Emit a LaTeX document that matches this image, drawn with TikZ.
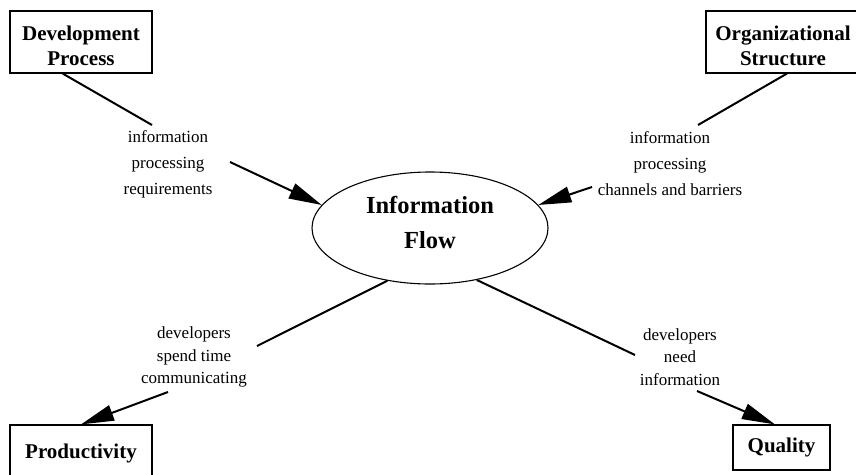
\documentclass[tikz,border=0pt]{standalone}
\usepackage{fontspec}
\setmainfont{Liberation Serif}
\usepackage{tikz}
\usetikzlibrary{arrows.meta}
\usetikzlibrary{shapes.geometric}
\tikzstyle{factor}=[draw,line width=1.2pt,align=center,inner sep=0pt,font=\bfseries\fontsize{21}{25}\selectfont]
\tikzstyle{hub}=[draw,ellipse,line width=1.1pt,align=center,inner sep=0pt,font=\bfseries\fontsize{24.5}{35}\selectfont]
\tikzstyle{why}=[align=center,inner sep=0pt,font=\fontsize{17}{26}\selectfont]
\tikzstyle{whylow}=[why,font=\fontsize{17}{22.5}\selectfont]
\tikzstyle{fwhead}=[>/.tip={Triangle[length=33pt,width=16pt]}]
\tikzstyle{fw}=[line width=2pt]
\tikzstyle{fwto}=[fw,fwhead,->]

\begin{document}
\begin{tikzpicture}[x=1pt,y=-1pt]
	\useasboundingbox (0,0) rectangle (856,474);
	\clip (0,0) rectangle (856,474);
	\node[factor,minimum width=142pt,minimum height=62pt] (D) at (81,42) {\rule{0pt}{22pt}Development\\Process};
	\node[factor,minimum width=154pt,minimum height=62pt] (O) at (783,42) {\rule{0pt}{22pt}Organizational\\Structure};
	\node[factor,minimum width=142pt,minimum height=56pt] (P) at (81,453) {Productivity};
	\node[factor,minimum width=97pt,minimum height=45pt] (Q) at (781.5,447.5) {Quality};
	\node[hub,minimum width=236pt,minimum height=112pt] (F) at (430,228) {Information\\Flow\rule[-12pt]{0pt}{12pt}};
	\node[why] (Ld) at (168,164) {information\\processing\\requirements};
	\node[why] (Lo) at (670,164) {information\\processing\\channels and barriers};
	\node[whylow] (Lp) at (194,357) {developers\\spend time\\communicating};
	\node[whylow] (Lq) at (680,357) {developers\\need\\information};
	\coordinate (d1) at (152,125);
	\coordinate (d2) at (230,162);
	\coordinate (o1) at (698,125);
	\coordinate (o2) at (592,187);
	\coordinate (p1) at (257,346);
	\coordinate (p2) at (168,392);
	\coordinate (q1) at (635,355);
	\coordinate (q2) at (697,391);
	\draw[fw] (D.240) -- (d1);
	\draw[fwto] (d2) -- (F.168);
	\draw[fw] (O.-83) -- (o1);
	\draw[fwto] (o2) -- (F.12);
	\draw[fw] (F.231) -- (p1);
	\draw[fwto] (p2) -- (P.north);
	\draw[fw] (F.-48) -- (q1);
	\draw[fwto] (q2) -- (Q.106);
\end{tikzpicture}
\end{document}
